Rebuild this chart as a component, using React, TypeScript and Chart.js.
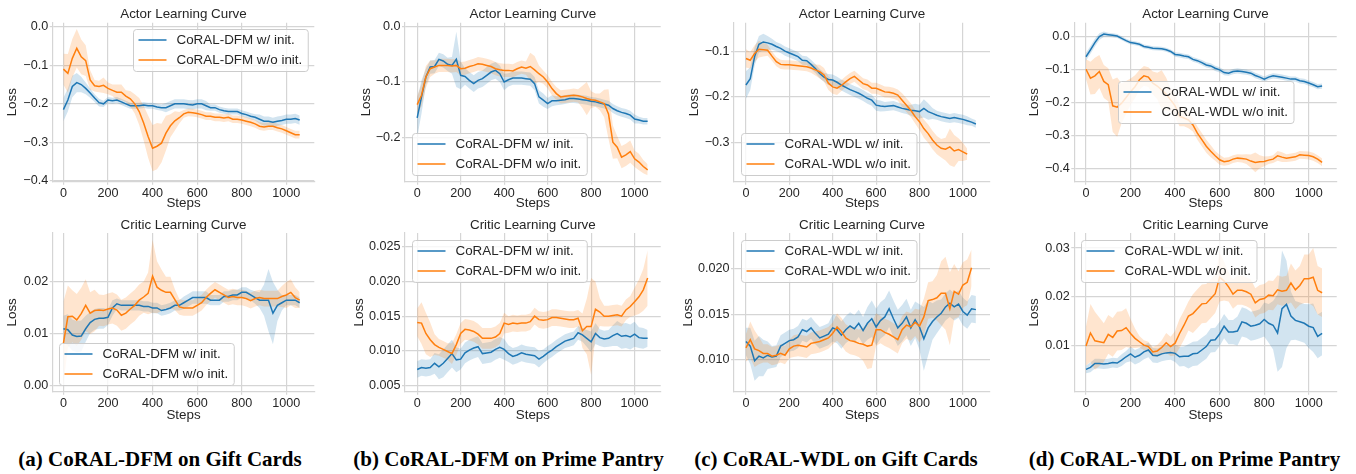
import React, { useEffect, useRef } from 'react';
import { Chart, registerables } from 'chart.js';

Chart.register(...registerables);

const FONT = "'Liberation Sans', Arial, Helvetica, sans-serif";
const TEXT = '#262626';
const GRID = '#d5d5d5';
const BLUE = '#1f77b4';
const ORANGE = '#ff7f0e';
const BLUE_FILL = 'rgba(31,119,180,0.2)';
const ORANGE_FILL = 'rgba(255,127,14,0.2)';
const LABEL_SIZE = 13.4;
const TICK_SIZE = 12.6;
const HALF_LH = (LABEL_SIZE * 1.2) / 2;

// ---------- data ----------
const STEPS = [0, 20, 40, 60, 80, 100, 120, 140, 160, 180, 200, 220, 240, 260, 280, 300, 320, 340, 360, 380, 400, 420, 440, 460, 480, 500, 520, 540, 560, 580, 600, 620, 640, 660, 680, 700, 720, 740, 760, 780, 800, 820, 840, 860, 880, 900, 920, 940, 960, 980, 1000, 1020, 1040, 1060];
const X_TICKS = [0, 200, 400, 600, 800, 1000];
const X_TICK_LABELS = ['0', '200', '400', '600', '800', '1000'];

const DFM_LABELS = ['CoRAL-DFM w/ init.', 'CoRAL-DFM w/o init.'];
const WDL_LABELS = ['CoRAL-WDL w/ init.', 'CoRAL-WDL w/o init.'];
const TITLES = ['Actor Learning Curve', 'Critic Learning Curve'];
const CAPTIONS = ['(a) CoRAL-DFM on Gift Cards', '(b) CoRAL-DFM on Prime Pantry', '(c) CoRAL-WDL on Gift Cards', '(d) CoRAL-WDL on Prime Pantry'];

// (a) actor
const A_ACTOR_W = [-0.215, -0.19, -0.155, -0.145, -0.15, -0.16, -0.172, -0.185, -0.197, -0.2, -0.19, -0.192, -0.19, -0.195, -0.2, -0.205, -0.205, -0.205, -0.203, -0.205, -0.205, -0.208, -0.21, -0.21, -0.205, -0.2, -0.2, -0.2, -0.202, -0.203, -0.2, -0.2, -0.205, -0.21, -0.21, -0.215, -0.218, -0.22, -0.22, -0.22, -0.225, -0.228, -0.232, -0.235, -0.24, -0.245, -0.245, -0.248, -0.245, -0.243, -0.24, -0.24, -0.238, -0.242];
const A_ACTOR_W_BAND = [0.03, 0.03, 0.028, 0.025, 0.02, 0.015, 0.012, 0.01, 0.01, 0.008, 0.008, 0.008, 0.008, 0.008, 0.008, 0.008, 0.008, 0.008, 0.008, 0.008, 0.008, 0.008, 0.008, 0.012, 0.012, 0.012, 0.012, 0.012, 0.012, 0.012, 0.012, 0.012, 0.012, 0.008, 0.008, 0.008, 0.008, 0.008, 0.008, 0.008, 0.008, 0.008, 0.008, 0.008, 0.012, 0.012, 0.012, 0.012, 0.012, 0.012, 0.012, 0.012, 0.012, 0.012];
const A_ACTOR_WO = [-0.11, -0.121, -0.082, -0.056, -0.078, -0.088, -0.138, -0.153, -0.155, -0.152, -0.16, -0.165, -0.17, -0.17, -0.18, -0.187, -0.2, -0.22, -0.25, -0.285, -0.315, -0.31, -0.302, -0.276, -0.257, -0.244, -0.236, -0.226, -0.222, -0.223, -0.225, -0.228, -0.232, -0.232, -0.235, -0.235, -0.237, -0.235, -0.24, -0.24, -0.242, -0.245, -0.248, -0.252, -0.258, -0.26, -0.258, -0.258, -0.262, -0.265, -0.27, -0.275, -0.28, -0.28];
const A_ACTOR_WO_BAND = [0.04, 0.05, 0.05, 0.05, 0.045, 0.04, 0.025, 0.015, 0.015, 0.02, 0.015, 0.015, 0.02, 0.02, 0.015, 0.02, 0.025, 0.035, 0.045, 0.055, 0.06, 0.06, 0.05, 0.045, 0.03, 0.025, 0.015, 0.01, 0.01, 0.01, 0.01, 0.01, 0.01, 0.01, 0.01, 0.01, 0.01, 0.01, 0.01, 0.01, 0.01, 0.01, 0.01, 0.01, 0.01, 0.01, 0.01, 0.01, 0.01, 0.01, 0.01, 0.01, 0.01, 0.01];
const A_ACTOR_YTICKS = [-0.4, -0.3, -0.2, -0.1, 0];
const A_ACTOR_YLABELS = ['\u22120.4', '\u22120.3', '\u22120.2', '\u22120.1', '0.0'];

// (a) critic
const A_CRITIC_W = [0.011, 0.0108, 0.0098, 0.0095, 0.0096, 0.011, 0.0122, 0.0128, 0.013, 0.013, 0.0132, 0.015, 0.0158, 0.0155, 0.0155, 0.0155, 0.0155, 0.0155, 0.0153, 0.0153, 0.015, 0.015, 0.0145, 0.0147, 0.015, 0.0155, 0.0155, 0.016, 0.0165, 0.017, 0.017, 0.017, 0.017, 0.0165, 0.0165, 0.0165, 0.0172, 0.0172, 0.0175, 0.0175, 0.018, 0.018, 0.0175, 0.017, 0.0165, 0.0165, 0.0165, 0.014, 0.0155, 0.016, 0.0165, 0.0165, 0.0165, 0.016];
const A_CRITIC_W_BAND = [0.0025, 0.003, 0.003, 0.003, 0.003, 0.0025, 0.002, 0.002, 0.002, 0.002, 0.0015, 0.0015, 0.001, 0.001, 0.001, 0.001, 0.001, 0.001, 0.001, 0.001, 0.001, 0.001, 0.001, 0.001, 0.001, 0.001, 0.001, 0.0012, 0.0012, 0.0012, 0.0012, 0.0012, 0.0012, 0.001, 0.001, 0.001, 0.001, 0.001, 0.001, 0.001, 0.001, 0.001, 0.001, 0.0012, 0.0015, 0.003, 0.006, 0.006, 0.003, 0.0015, 0.001, 0.001, 0.001, 0.001];
const A_CRITIC_WO = [0.0082, 0.0133, 0.0134, 0.0127, 0.0139, 0.0155, 0.014, 0.0145, 0.0146, 0.0145, 0.0148, 0.015, 0.0146, 0.0136, 0.014, 0.0148, 0.0155, 0.0165, 0.0171, 0.0178, 0.0211, 0.019, 0.0184, 0.018, 0.018, 0.0166, 0.0152, 0.015, 0.015, 0.015, 0.0155, 0.016, 0.017, 0.0178, 0.0185, 0.018, 0.0175, 0.017, 0.0172, 0.017, 0.017, 0.0168, 0.0164, 0.0168, 0.017, 0.0168, 0.0168, 0.0168, 0.0168, 0.0172, 0.0175, 0.018, 0.017, 0.0165];
const A_CRITIC_WO_BAND = [0.008, 0.006, 0.005, 0.005, 0.005, 0.005, 0.004, 0.004, 0.003, 0.003, 0.003, 0.003, 0.003, 0.003, 0.003, 0.003, 0.003, 0.003, 0.003, 0.004, 0.007, 0.005, 0.004, 0.003, 0.003, 0.002, 0.0015, 0.0015, 0.0015, 0.0015, 0.0015, 0.0015, 0.0015, 0.0015, 0.0015, 0.0015, 0.0015, 0.0015, 0.0015, 0.0015, 0.0015, 0.0015, 0.0015, 0.0015, 0.0015, 0.0015, 0.0015, 0.0015, 0.0015, 0.002, 0.0025, 0.0025, 0.002, 0.0015];
const A_CRITIC_YTICKS = [0, 0.01, 0.02];
const A_CRITIC_YLABELS = ['0.00', '0.01', '0.02'];

// (b) actor
const B_ACTOR_W = [-0.165, -0.127, -0.091, -0.073, -0.072, -0.059, -0.062, -0.068, -0.07, -0.059, -0.088, -0.09, -0.097, -0.103, -0.097, -0.094, -0.088, -0.082, -0.079, -0.085, -0.1, -0.096, -0.093, -0.093, -0.093, -0.094, -0.095, -0.103, -0.127, -0.133, -0.139, -0.134, -0.134, -0.133, -0.132, -0.13, -0.13, -0.131, -0.132, -0.133, -0.135, -0.136, -0.138, -0.14, -0.142, -0.148, -0.152, -0.155, -0.157, -0.16, -0.167, -0.169, -0.171, -0.171];
const B_ACTOR_W_BAND = [0.035, 0.03, 0.015, 0.012, 0.012, 0.012, 0.012, 0.012, 0.015, 0.05, 0.025, 0.015, 0.015, 0.015, 0.015, 0.015, 0.015, 0.015, 0.015, 0.015, 0.015, 0.012, 0.012, 0.012, 0.012, 0.012, 0.012, 0.012, 0.012, 0.012, 0.01, 0.01, 0.008, 0.008, 0.008, 0.008, 0.008, 0.008, 0.008, 0.008, 0.008, 0.008, 0.008, 0.008, 0.008, 0.008, 0.008, 0.008, 0.008, 0.008, 0.008, 0.006, 0.006, 0.006];
const B_ACTOR_WO = [-0.141, -0.124, -0.091, -0.076, -0.073, -0.07, -0.07, -0.07, -0.071, -0.07, -0.076, -0.075, -0.072, -0.07, -0.067, -0.068, -0.07, -0.072, -0.076, -0.078, -0.079, -0.079, -0.08, -0.076, -0.073, -0.075, -0.072, -0.078, -0.085, -0.091, -0.1, -0.112, -0.121, -0.127, -0.126, -0.125, -0.124, -0.125, -0.127, -0.13, -0.132, -0.133, -0.136, -0.139, -0.158, -0.209, -0.218, -0.236, -0.232, -0.226, -0.239, -0.245, -0.253, -0.259];
const B_ACTOR_WO_BAND = [0.015, 0.02, 0.02, 0.015, 0.012, 0.012, 0.012, 0.012, 0.012, 0.012, 0.012, 0.012, 0.012, 0.012, 0.012, 0.012, 0.012, 0.012, 0.012, 0.012, 0.012, 0.012, 0.012, 0.012, 0.012, 0.012, 0.025, 0.025, 0.015, 0.012, 0.012, 0.012, 0.012, 0.012, 0.012, 0.012, 0.012, 0.012, 0.02, 0.03, 0.015, 0.012, 0.015, 0.025, 0.045, 0.03, 0.02, 0.02, 0.02, 0.02, 0.015, 0.015, 0.012, 0.01];
const B_ACTOR_YTICKS = [-0.2, -0.1, 0];
const B_ACTOR_YLABELS = ['\u22120.2', '\u22120.1', '0.0'];

// (b) critic
const B_CRITIC_W = [0.0073, 0.0076, 0.0075, 0.0076, 0.0082, 0.0077, 0.0082, 0.0089, 0.0096, 0.0087, 0.0088, 0.0097, 0.0101, 0.0104, 0.0106, 0.0096, 0.0097, 0.0098, 0.0102, 0.0105, 0.0102, 0.0096, 0.0092, 0.0094, 0.0097, 0.0095, 0.0094, 0.0093, 0.0088, 0.0092, 0.0097, 0.0101, 0.0106, 0.011, 0.0114, 0.0116, 0.0118, 0.0126, 0.0123, 0.0118, 0.0113, 0.0125, 0.0119, 0.0117, 0.0118, 0.0122, 0.0125, 0.0121, 0.0122, 0.012, 0.0124, 0.0119, 0.0118, 0.0118];
const B_CRITIC_W_BAND = [0.0012, 0.0012, 0.0012, 0.0012, 0.0015, 0.0018, 0.002, 0.002, 0.002, 0.0018, 0.0015, 0.0015, 0.0015, 0.0015, 0.0015, 0.0015, 0.0015, 0.0015, 0.0015, 0.0015, 0.0015, 0.0012, 0.0012, 0.0012, 0.0012, 0.0012, 0.0012, 0.0012, 0.0012, 0.001, 0.001, 0.001, 0.001, 0.001, 0.001, 0.001, 0.001, 0.001, 0.001, 0.0012, 0.0015, 0.0015, 0.0012, 0.0012, 0.0012, 0.0015, 0.0018, 0.0018, 0.0018, 0.0018, 0.0018, 0.0015, 0.0015, 0.0012];
const B_CRITIC_WO = [0.0141, 0.014, 0.0125, 0.0116, 0.0109, 0.0105, 0.0102, 0.0099, 0.0096, 0.0109, 0.0125, 0.0131, 0.013, 0.0128, 0.0124, 0.0118, 0.0118, 0.0118, 0.012, 0.0125, 0.014, 0.0138, 0.014, 0.0139, 0.014, 0.014, 0.0142, 0.015, 0.0145, 0.0144, 0.0145, 0.0148, 0.0148, 0.0147, 0.0146, 0.0145, 0.0145, 0.0147, 0.0129, 0.0135, 0.0135, 0.016, 0.0156, 0.015, 0.015, 0.0151, 0.0152, 0.015, 0.0159, 0.0164, 0.0171, 0.0178, 0.0188, 0.0205];
const B_CRITIC_WO_BAND = [0.002, 0.003, 0.003, 0.0025, 0.0015, 0.0012, 0.0012, 0.0012, 0.0015, 0.0015, 0.0015, 0.0015, 0.0015, 0.0015, 0.0015, 0.0015, 0.0015, 0.0015, 0.0015, 0.0015, 0.0015, 0.0012, 0.0012, 0.0012, 0.0012, 0.0012, 0.0012, 0.0012, 0.0012, 0.0012, 0.0012, 0.0012, 0.0012, 0.0012, 0.0012, 0.0012, 0.0012, 0.0012, 0.0025, 0.004, 0.007, 0.004, 0.002, 0.0015, 0.0015, 0.0015, 0.0015, 0.0015, 0.0015, 0.0015, 0.002, 0.0025, 0.003, 0.004];
const B_CRITIC_YTICKS = [0.005, 0.01, 0.015, 0.02, 0.025];
const B_CRITIC_YLABELS = ['0.005', '0.010', '0.015', '0.020', '0.025'];

// (c) actor
const C_ACTOR_W = [-0.174, -0.16, -0.112, -0.085, -0.08, -0.082, -0.085, -0.09, -0.094, -0.1, -0.104, -0.108, -0.112, -0.12, -0.121, -0.129, -0.138, -0.149, -0.157, -0.162, -0.163, -0.168, -0.174, -0.179, -0.184, -0.188, -0.192, -0.197, -0.203, -0.207, -0.218, -0.22, -0.221, -0.22, -0.219, -0.222, -0.225, -0.227, -0.229, -0.23, -0.232, -0.225, -0.232, -0.236, -0.24, -0.243, -0.245, -0.247, -0.245, -0.247, -0.249, -0.252, -0.255, -0.259];
const C_ACTOR_W_BAND = [0.03, 0.025, 0.02, 0.018, 0.018, 0.015, 0.012, 0.01, 0.01, 0.01, 0.01, 0.01, 0.01, 0.01, 0.01, 0.01, 0.01, 0.01, 0.01, 0.012, 0.012, 0.012, 0.012, 0.012, 0.012, 0.012, 0.012, 0.012, 0.012, 0.012, 0.012, 0.012, 0.01, 0.01, 0.01, 0.01, 0.01, 0.01, 0.012, 0.015, 0.015, 0.02, 0.018, 0.012, 0.01, 0.01, 0.01, 0.01, 0.01, 0.01, 0.01, 0.01, 0.008, 0.008];
const C_ACTOR_WO = [-0.116, -0.12, -0.105, -0.096, -0.097, -0.098, -0.111, -0.123, -0.129, -0.13, -0.13, -0.131, -0.132, -0.133, -0.134, -0.137, -0.141, -0.145, -0.152, -0.17, -0.178, -0.181, -0.175, -0.167, -0.16, -0.155, -0.163, -0.171, -0.174, -0.181, -0.181, -0.185, -0.189, -0.19, -0.192, -0.196, -0.207, -0.218, -0.229, -0.243, -0.254, -0.269, -0.28, -0.294, -0.305, -0.312, -0.314, -0.309, -0.318, -0.315, -0.32, -0.325, null, null];
const C_ACTOR_WO_BAND = [0.02, 0.018, 0.018, 0.018, 0.015, 0.012, 0.01, 0.01, 0.01, 0.01, 0.01, 0.01, 0.01, 0.01, 0.01, 0.01, 0.012, 0.015, 0.015, 0.015, 0.015, 0.015, 0.012, 0.012, 0.012, 0.012, 0.012, 0.012, 0.012, 0.012, 0.012, 0.012, 0.012, 0.012, 0.012, 0.012, 0.015, 0.015, 0.015, 0.015, 0.018, 0.02, 0.02, 0.02, 0.02, 0.02, 0.025, 0.04, 0.035, 0.025, 0.02, 0.012, 0, 0];
const C_ACTOR_YTICKS = [-0.3, -0.2, -0.1];
const C_ACTOR_YLABELS = ['\u22120.3', '\u22120.2', '\u22120.1'];

// (c) critic
const C_CRITIC_W = [0.012, 0.0115, 0.0099, 0.0104, 0.0102, 0.0105, 0.0103, 0.0104, 0.0115, 0.0118, 0.0121, 0.0122, 0.0125, 0.0133, 0.0131, 0.0135, 0.0129, 0.0124, 0.0126, 0.0128, 0.0135, 0.0133, 0.0127, 0.0133, 0.0137, 0.0134, 0.014, 0.0132, 0.014, 0.0145, 0.0136, 0.0143, 0.0147, 0.0156, 0.0145, 0.0135, 0.014, 0.0147, 0.0135, 0.0144, 0.0136, 0.0123, 0.0135, 0.0142, 0.0147, 0.0151, 0.0158, 0.0162, 0.0158, 0.0161, 0.0153, 0.0149, 0.0156, 0.0155];
const C_CRITIC_W_BAND = [0.0015, 0.002, 0.0022, 0.0022, 0.002, 0.0015, 0.0012, 0.0012, 0.0012, 0.0012, 0.0012, 0.0012, 0.0012, 0.0012, 0.0012, 0.0012, 0.0012, 0.0012, 0.0012, 0.0012, 0.0015, 0.0015, 0.0015, 0.0015, 0.0015, 0.0015, 0.0015, 0.0015, 0.0018, 0.002, 0.002, 0.002, 0.002, 0.002, 0.002, 0.002, 0.002, 0.002, 0.002, 0.002, 0.0025, 0.0035, 0.003, 0.002, 0.0018, 0.0015, 0.0015, 0.0015, 0.0015, 0.0015, 0.0015, 0.0015, 0.0015, 0.0015];
const C_CRITIC_WO = [0.0113, 0.0122, 0.0112, 0.011, 0.0107, 0.0107, 0.0104, 0.0105, 0.0107, 0.0105, 0.0112, 0.0115, 0.0116, 0.0115, 0.0114, 0.0118, 0.0119, 0.012, 0.0122, 0.0124, 0.0129, 0.0136, 0.0131, 0.0124, 0.0121, 0.012, 0.0118, 0.0117, 0.0115, 0.0116, 0.0133, 0.0133, 0.013, 0.0128, 0.0125, 0.0122, 0.0133, 0.0138, 0.0136, 0.0141, 0.0137, 0.0147, 0.0165, 0.0166, 0.0168, 0.0173, 0.0173, 0.0156, 0.0175, 0.0172, 0.0182, 0.0185, 0.0201, null];
const C_CRITIC_WO_BAND = [0.0015, 0.002, 0.002, 0.0015, 0.001, 0.001, 0.001, 0.001, 0.001, 0.001, 0.001, 0.0012, 0.0012, 0.0012, 0.0012, 0.0012, 0.0012, 0.0012, 0.0012, 0.0012, 0.0012, 0.0015, 0.0015, 0.0015, 0.0015, 0.0015, 0.0015, 0.0018, 0.0025, 0.0025, 0.0018, 0.0015, 0.0015, 0.0015, 0.0015, 0.0015, 0.0015, 0.0015, 0.0015, 0.0015, 0.0018, 0.002, 0.002, 0.002, 0.0025, 0.0035, 0.004, 0.004, 0.003, 0.0025, 0.0025, 0.0025, 0.002, 0];
const C_CRITIC_YTICKS = [0.01, 0.015, 0.02];
const C_CRITIC_YLABELS = ['0.010', '0.015', '0.020'];

// (d) actor
const D_ACTOR_W = [-0.061, -0.04, -0.018, 0.0, 0.008, 0.006, 0.004, 0.002, -0.005, -0.012, -0.018, -0.02, -0.023, -0.03, -0.032, -0.035, -0.036, -0.037, -0.04, -0.045, -0.054, -0.056, -0.059, -0.061, -0.069, -0.073, -0.079, -0.086, -0.089, -0.096, -0.101, -0.109, -0.111, -0.106, -0.104, -0.106, -0.108, -0.111, -0.118, -0.123, -0.129, -0.123, -0.119, -0.121, -0.123, -0.126, -0.129, -0.129, -0.134, -0.136, -0.141, -0.146, -0.152, -0.15];
const D_ACTOR_W_BAND = [0.012, 0.012, 0.012, 0.01, 0.008, 0.006, 0.006, 0.006, 0.006, 0.006, 0.006, 0.006, 0.006, 0.006, 0.006, 0.006, 0.006, 0.006, 0.006, 0.006, 0.007, 0.007, 0.007, 0.007, 0.007, 0.007, 0.008, 0.008, 0.008, 0.008, 0.008, 0.008, 0.008, 0.008, 0.008, 0.008, 0.008, 0.008, 0.008, 0.008, 0.008, 0.008, 0.008, 0.008, 0.008, 0.008, 0.008, 0.008, 0.008, 0.008, 0.008, 0.008, 0.008, 0.008];
const D_ACTOR_WO = [-0.099, -0.126, -0.119, -0.106, -0.136, -0.146, -0.21, -0.214, -0.202, -0.185, -0.167, -0.152, -0.131, -0.119, -0.123, -0.141, -0.15, -0.162, -0.175, -0.192, -0.21, -0.242, -0.247, -0.253, -0.268, -0.293, -0.313, -0.333, -0.348, -0.362, -0.374, -0.38, -0.378, -0.372, -0.369, -0.37, -0.372, -0.378, -0.382, -0.38, -0.379, -0.375, -0.372, -0.362, -0.366, -0.369, -0.367, -0.365, -0.359, -0.36, -0.361, -0.365, -0.372, -0.382];
const D_ACTOR_WO_BAND = [0.03, 0.05, 0.055, 0.05, 0.05, 0.05, 0.08, 0.09, 0.06, 0.05, 0.04, 0.035, 0.03, 0.03, 0.03, 0.035, 0.04, 0.06, 0.05, 0.035, 0.035, 0.03, 0.025, 0.025, 0.02, 0.02, 0.02, 0.02, 0.018, 0.015, 0.015, 0.012, 0.012, 0.012, 0.012, 0.012, 0.015, 0.02, 0.03, 0.02, 0.015, 0.012, 0.012, 0.015, 0.015, 0.012, 0.012, 0.012, 0.012, 0.012, 0.012, 0.012, 0.012, 0.012];
const D_ACTOR_YTICKS = [-0.4, -0.3, -0.2, -0.1, 0];
const D_ACTOR_YLABELS = ['\u22120.4', '\u22120.3', '\u22120.2', '\u22120.1', '0.0'];

// (d) critic
const D_CRITIC_W = [0.005, 0.0054, 0.0062, 0.0062, 0.0061, 0.0062, 0.0064, 0.0063, 0.0069, 0.0076, 0.0082, 0.0075, 0.0079, 0.0086, 0.009, 0.0079, 0.0078, 0.0082, 0.0084, 0.0085, 0.0083, 0.0076, 0.0077, 0.0077, 0.0082, 0.0083, 0.009, 0.0097, 0.011, 0.0111, 0.0123, 0.0139, 0.0127, 0.0127, 0.0129, 0.0148, 0.0145, 0.0139, 0.0141, 0.0144, 0.0153, 0.0145, 0.0141, 0.0125, 0.0175, 0.0184, 0.016, 0.0151, 0.0148, 0.0145, 0.0139, 0.0136, 0.0118, 0.0124];
const D_CRITIC_W_BAND = [0.0008, 0.001, 0.001, 0.001, 0.001, 0.001, 0.001, 0.001, 0.0012, 0.0012, 0.0015, 0.0015, 0.0015, 0.0015, 0.0015, 0.0015, 0.0015, 0.0015, 0.0015, 0.0015, 0.0018, 0.002, 0.002, 0.0025, 0.0025, 0.0025, 0.0025, 0.0025, 0.0025, 0.0025, 0.0025, 0.0025, 0.0025, 0.0025, 0.003, 0.003, 0.003, 0.003, 0.003, 0.003, 0.0035, 0.004, 0.005, 0.008, 0.012, 0.009, 0.005, 0.004, 0.004, 0.004, 0.0045, 0.005, 0.0045, 0.0045];
const D_CRITIC_WO = [0.0098, 0.0125, 0.0109, 0.0107, 0.0105, 0.0122, 0.0116, 0.0129, 0.013, 0.0136, 0.0124, 0.0114, 0.0107, 0.01, 0.0097, 0.0086, 0.0088, 0.0095, 0.0105, 0.0097, 0.0104, 0.0124, 0.0141, 0.016, 0.0165, 0.0175, 0.0185, 0.0186, 0.0196, 0.0206, 0.024, 0.0232, 0.022, 0.0205, 0.0213, 0.0213, 0.021, 0.0205, 0.0187, 0.0194, 0.0196, 0.0203, 0.0202, 0.0214, 0.0211, 0.0213, 0.0228, 0.0214, 0.0223, 0.0237, 0.0237, 0.024, 0.0213, 0.0208];
const D_CRITIC_WO_BAND = [0.004, 0.006, 0.006, 0.005, 0.004, 0.004, 0.004, 0.004, 0.004, 0.004, 0.003, 0.002, 0.0012, 0.001, 0.001, 0.001, 0.0012, 0.0015, 0.002, 0.002, 0.0025, 0.003, 0.003, 0.003, 0.004, 0.004, 0.004, 0.004, 0.004, 0.004, 0.005, 0.004, 0.003, 0.003, 0.003, 0.003, 0.003, 0.003, 0.003, 0.003, 0.003, 0.003, 0.003, 0.003, 0.003, 0.003, 0.004, 0.004, 0.004, 0.005, 0.005, 0.006, 0.005, 0.005];
const D_CRITIC_YTICKS = [0.01, 0.02, 0.03];
const D_CRITIC_YLABELS = ['0.01', '0.02', '0.03'];

// ---------- layout ----------
const COLS = [
  { l: 52.7, r: 314.3, lossX: [12.5, 12.5], cap: 160 },
  { l: 405, r: 660.7, lossX: [366, 359.5], cap: 508.5 },
  { l: 734, r: 990, lossX: [694.7, 688.7], cap: 836 },
  { l: 1074.3, r: 1336.7, lossX: [1034.7, 1034.7], cap: 1184.5 },
];
const ROWS = [
  { top: 0, h: 214, axT: 22.7, axB: 181.7, titleY: 14, stepsY: 203.7 },
  { top: 214, h: 214, axT: 232.7, axB: 391.7, titleY: 225, stepsY: 415 },
];

type PanelDef = {
  col: number; row: number; labels: string[];
  w: (number | null)[]; wb: number[]; wo: (number | null)[]; wob: number[];
  yMin: number; yMax: number; yTicks: number[]; yLabels: string[];
  xMin: number; xMax: number; loc: string;
};

const PANELS: PanelDef[] = [
  { col: 0, row: 0, labels: DFM_LABELS, w: A_ACTOR_W, wb: A_ACTOR_W_BAND, wo: A_ACTOR_WO, wob: A_ACTOR_WO_BAND, yMin: -0.402, yMax: 0.0104, yTicks: A_ACTOR_YTICKS, yLabels: A_ACTOR_YLABELS, xMin: -48, xMax: 1125.5, loc: 'upper right' },
  { col: 0, row: 1, labels: DFM_LABELS, w: A_CRITIC_W, wb: A_CRITIC_W_BAND, wo: A_CRITIC_WO, wob: A_CRITIC_WO_BAND, yMin: -0.0011, yMax: 0.0294, yTicks: A_CRITIC_YTICKS, yLabels: A_CRITIC_YLABELS, xMin: -48, xMax: 1125.5, loc: 'lower left' },
  { col: 1, row: 0, labels: DFM_LABELS, w: B_ACTOR_W, wb: B_ACTOR_W_BAND, wo: B_ACTOR_WO, wob: B_ACTOR_WO_BAND, yMin: -0.2805, yMax: 0.0073, yTicks: B_ACTOR_YTICKS, yLabels: B_ACTOR_YLABELS, xMin: -56, xMax: 1120, loc: 'lower left' },
  { col: 1, row: 1, labels: DFM_LABELS, w: B_CRITIC_W, wb: B_CRITIC_W_BAND, wo: B_CRITIC_WO, wob: B_CRITIC_WO_BAND, yMin: 0.0041, yMax: 0.027, yTicks: B_CRITIC_YTICKS, yLabels: B_CRITIC_YLABELS, xMin: -56, xMax: 1120, loc: 'upper left' },
  { col: 2, row: 0, labels: WDL_LABELS, w: C_ACTOR_W, wb: C_ACTOR_W_BAND, wo: C_ACTOR_WO, wob: C_ACTOR_WO_BAND, yMin: -0.385, yMax: -0.038, yTicks: C_ACTOR_YTICKS, yLabels: C_ACTOR_YLABELS, xMin: -55, xMax: 1125, loc: 'lower left' },
  { col: 2, row: 1, labels: WDL_LABELS, w: C_CRITIC_W, wb: C_CRITIC_W_BAND, wo: C_CRITIC_WO, wob: C_CRITIC_WO_BAND, yMin: 0.0065, yMax: 0.0239, yTicks: C_CRITIC_YTICKS, yLabels: C_CRITIC_YLABELS, xMin: -55, xMax: 1125, loc: 'upper left' },
  { col: 3, row: 0, labels: WDL_LABELS, w: D_ACTOR_W, wb: D_ACTOR_W_BAND, wo: D_ACTOR_WO, wob: D_ACTOR_WO_BAND, yMin: -0.4406, yMax: 0.0424, yTicks: D_ACTOR_YTICKS, yLabels: D_ACTOR_YLABELS, xMin: -52.5, xMax: 1125.5, loc: 'center' },
  { col: 3, row: 1, labels: WDL_LABELS, w: D_CRITIC_W, wb: D_CRITIC_W_BAND, wo: D_CRITIC_WO, wob: D_CRITIC_WO_BAND, yMin: 0.0004, yMax: 0.0331, yTicks: D_CRITIC_YTICKS, yLabels: D_CRITIC_YLABELS, xMin: -52.5, xMax: 1125.5, loc: 'upper left' },
];

const boxLegend = {
  id: 'boxLegend',
  afterDraw(chart: any, _args: any, opts: any) {
    const items = opts && opts.items;
    if (!items) return;
    const { ctx, chartArea: ca } = chart;
    ctx.save();
    ctx.font = `${LABEL_SIZE}px ${FONT}`;
    const tw = Math.max(...items.map((it: any) => ctx.measureText(it.label).width));
    const w = 43 + tw + 6;
    const h = 42;
    const pad = 6.5;
    let x = ca.left + pad;
    let y = ca.top + pad;
    if (opts.loc.indexOf('right') >= 0) x = ca.right - pad - w;
    if (opts.loc.indexOf('lower') >= 0) y = ca.bottom - pad - h;
    if (opts.loc === 'center') {
      x = (ca.left + ca.right) / 2 - w / 2;
      y = (ca.top + ca.bottom) / 2 - h / 2;
    }
    x = Math.round(x) + 0.5;
    y = Math.round(y) + 0.5;
    const r = 3;
    ctx.beginPath();
    ctx.moveTo(x + r, y);
    ctx.lineTo(x + w - r, y);
    ctx.arcTo(x + w, y, x + w, y + r, r);
    ctx.lineTo(x + w, y + h - r);
    ctx.arcTo(x + w, y + h, x + w - r, y + h, r);
    ctx.lineTo(x + r, y + h);
    ctx.arcTo(x, y + h, x, y + h - r, r);
    ctx.lineTo(x, y + r);
    ctx.arcTo(x, y, x + r, y, r);
    ctx.closePath();
    ctx.fillStyle = 'rgba(255,255,255,0.8)';
    ctx.fill();
    ctx.strokeStyle = '#cccccc';
    ctx.lineWidth = 1;
    ctx.stroke();
    items.forEach((it: any, i: number) => {
      const cy = y + 10.5 + i * 20;
      ctx.beginPath();
      ctx.moveTo(x + 5, cy);
      ctx.lineTo(x + 33, cy);
      ctx.strokeStyle = it.color;
      ctx.lineWidth = 1.5;
      ctx.stroke();
      ctx.fillStyle = TEXT;
      ctx.textBaseline = 'middle';
      ctx.textAlign = 'left';
      ctx.fillText(it.label, x + 43, cy + 0.5);
    });
    ctx.restore();
  },
};

function geometry(p: PanelDef) {
  const c = COLS[p.col];
  const rw = ROWS[p.row];
  const lossX = c.lossX[p.row];
  const cx = Math.floor(lossX - HALF_LH);
  const yTitlePad = lossX - HALF_LH - cx;
  const cw = Math.ceil(c.r) + 3 - cx;
  const padRight = cx + cw - c.r;
  const yWidth = c.l - cx;
  const tPadTop = rw.titleY - rw.top - HALF_LH;
  const tPadBottom = Math.max(0, rw.axT - rw.top - tPadTop - 2 * HALF_LH);
  const xHeight = rw.top + rw.h - rw.axB;
  const xTitlePad = rw.top + rw.h - rw.stepsY - HALF_LH;
  return { cx, cy: rw.top, cw, ch: rw.h, yTitlePad, padRight, yWidth, tPadTop, tPadBottom, xHeight, xTitlePad };
}

function pts(m: (number | null)[], b: number[] | null, sign: number) {
  return STEPS.map((x, i) => {
    const v = m[i];
    if (v === null || v === undefined) return { x, y: null };
    return { x, y: b ? v + sign * b[i] : v };
  });
}

function buildConfig(p: PanelDef): any {
  const g = geometry(p);
  const bandDs = (data: any, color: string | null, order: number) => ({
    data,
    borderWidth: 0,
    pointRadius: 0,
    fill: color ? '-1' : false,
    backgroundColor: color || 'transparent',
    borderColor: 'transparent',
    tension: 0,
    order,
  });
  return {
    type: 'line',
    data: {
      datasets: [
        bandDs(pts(p.w, p.wb, -1), null, 5),
        bandDs(pts(p.w, p.wb, 1), BLUE_FILL, 4),
        bandDs(pts(p.wo, p.wob, -1), null, 3),
        bandDs(pts(p.wo, p.wob, 1), ORANGE_FILL, 2),
        { data: pts(p.w, null, 0), borderColor: BLUE, borderWidth: 1.5, pointRadius: 0, fill: false, tension: 0, order: 1 },
        { data: pts(p.wo, null, 0), borderColor: ORANGE, borderWidth: 1.5, pointRadius: 0, fill: false, tension: 0, order: 0 },
      ],
    },
    options: {
      animation: false,
      responsive: false,
      devicePixelRatio: 1,
      events: [],
      layout: { autoPadding: false, padding: { left: 0, top: 0, bottom: 0, right: g.padRight } },
      plugins: {
        legend: { display: false },
        tooltip: { enabled: false },
        title: {
          display: true,
          text: TITLES[p.row],
          color: TEXT,
          fullSize: false,
          font: { family: FONT, size: LABEL_SIZE, weight: 'normal' },
          padding: { top: g.tPadTop, bottom: g.tPadBottom },
        },
        boxLegend: {
          loc: p.loc,
          items: [
            { label: p.labels[0], color: BLUE },
            { label: p.labels[1], color: ORANGE },
          ],
        },
      },
      scales: {
        x: {
          type: 'linear',
          min: p.xMin,
          max: p.xMax,
          afterBuildTicks: (s: any) => { s.ticks = X_TICKS.map((v) => ({ value: v })); },
          afterFit: (s: any) => { s.height = g.xHeight; },
          ticks: {
            autoSkip: false,
            maxRotation: 0,
            padding: 1,
            color: TEXT,
            font: { family: FONT, size: TICK_SIZE },
            callback: (_v: any, i: number) => X_TICK_LABELS[i],
          },
          grid: { color: GRID, lineWidth: 1.2, drawTicks: true, tickLength: 3, tickColor: GRID },
          border: { display: true, color: GRID, width: 1.2 },
          title: {
            display: true,
            text: 'Steps',
            color: TEXT,
            font: { family: FONT, size: LABEL_SIZE },
            padding: { top: 0, bottom: g.xTitlePad },
          },
        },
        y: {
          type: 'linear',
          min: p.yMin,
          max: p.yMax,
          afterBuildTicks: (s: any) => { s.ticks = p.yTicks.map((v) => ({ value: v })); },
          afterFit: (s: any) => { s.width = g.yWidth; },
          ticks: {
            autoSkip: false,
            padding: 1.5,
            color: TEXT,
            font: { family: FONT, size: TICK_SIZE },
            callback: (_v: any, i: number) => p.yLabels[i],
          },
          grid: { color: GRID, lineWidth: 1.2, drawTicks: true, tickLength: 3, tickColor: GRID },
          border: { display: true, color: GRID, width: 1.2 },
          title: {
            display: true,
            text: 'Loss',
            color: TEXT,
            font: { family: FONT, size: LABEL_SIZE },
            padding: { top: g.yTitlePad, bottom: 0 },
          },
        },
      },
    },
    plugins: [boxLegend],
  };
}

function Panel({ p }: { p: PanelDef }) {
  const ref = useRef<HTMLCanvasElement>(null);
  const g = geometry(p);
  useEffect(() => {
    if (!ref.current) return;
    const chart = new Chart(ref.current, buildConfig(p));
    return () => chart.destroy();
  }, []);
  return (
    <canvas
      ref={ref}
      width={g.cw}
      height={g.ch}
      style={{ position: 'absolute', left: g.cx, top: g.cy, width: g.cw, height: g.ch, display: 'block' }}
    />
  );
}

export default function App() {
  return (
    <div style={{ position: 'absolute', left: 0, top: 0, width: 1356, height: 474, background: '#ffffff', overflow: 'hidden' }}>
      {PANELS.map((p, i) => <Panel key={i} p={p} />)}
      {CAPTIONS.map((c, i) => (
        <div
          key={'cap' + i}
          style={{
            position: 'absolute',
            left: COLS[i].cap - 200,
            width: 400,
            top: 447,
            height: 24,
            lineHeight: '24px',
            textAlign: 'center',
            fontFamily: "'Liberation Serif', 'Times New Roman', serif",
            fontWeight: 'bold',
            fontSize: 21,
            color: '#000000',
            whiteSpace: 'nowrap',
          }}
        >
          {c}
        </div>
      ))}
    </div>
  );
}
